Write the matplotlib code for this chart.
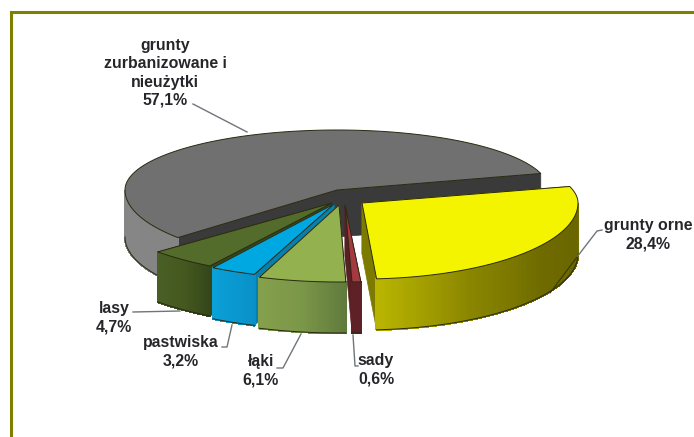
import numpy as np
import matplotlib
matplotlib.use("Agg")
import matplotlib.pyplot as plt
from matplotlib.colors import to_rgb

categories = ["grunty orne", "sady", "łąki", "pastwiska", "lasy", "grunty zurbanizowane i nieużytki"]
values = [28.4, 0.6, 6.1, 3.2, 4.7, 57.1]
labels = ["grunty orne\n28,4%", "sady\n0,6%", "łąki\n6,1%", "pastwiska\n3,2%", "lasy\n4,7%",
          "grunty\nzurbanizowane i\nnieużytki\n57,1%"]

START = 16.0
# per slice: apex x, apex y, Rx, Ry front, Ry back, depth, top, cut face, wall colour stops (from start to end angle)
geometry = [
    (362, 203, 216, 76, 60, 51, "#f4f400", "#7d7a00", ["#8f8c00", "#6a6600", "#6f6b00", "#8a8600", "#b9b500"]),
    (345, 205, 236, 77, 60, 51, "#a23a40", "#5a1f24", ["#5e2226", "#5e2226"]),
    (339, 205, 230, 77, 60, 51, "#93b14f", "#5f7a3c", ["#5f7a3c", "#7a9648", "#84a04c"]),
    (334, 204, 230, 75, 60, 51, "#00a8e2", "#0580b0", ["#0a90c8", "#0aa0d8"]),
    (332, 203, 232, 74, 60, 50, "#536b2b", "#34461a", ["#34461a", "#45591f", "#4a5f25"]),
    (337, 190, 212, 72, 60, 47, "#707070", "#3a3a3a", ["#858585", "#8a8a8a"]),
]
EDGE = "#2a2a10"

fig = plt.figure(figsize=(6.94, 4.37), dpi=100, facecolor="white")
ax = fig.add_axes([0, 0, 1, 1])
ax.set_xlim(0, 694)
ax.set_ylim(437, 0)
ax.axis("off")

ax.plot([11, 11, 694], [437, 12, 12], color="#808000", lw=2.2, solid_joinstyle="miter", zorder=1)


def project(g, theta):
    theta = np.radians(theta)
    s = np.sin(theta)
    ry = np.where(s > 0, g[4], g[3])
    return g[0] + g[2] * np.cos(theta), g[1] - ry * s


fractions = np.array(values) / np.sum(values)
edges = START - np.concatenate([[0], np.cumsum(fractions)]) * 360

order = [5, 4, 3, 2, 1, 0]
z = 2
for i in order:
    g = geometry[i]
    a0, a1 = edges[i], edges[i + 1]
    d = g[5]
    cx, cy = g[0], g[1]
    fine = np.linspace(a0, a1, 160)
    fx, fy = project(g, fine)
    # cut faces
    for k in (0, -1):
        ax.fill([cx, fx[k], fx[k], cx], [cy, fy[k], fy[k] + d, cy + d],
                color=g[7], lw=0.5, zorder=z)
    z += 1
    # rim wall with gradient
    stops = np.array([to_rgb(c) for c in g[8]])
    pos = np.linspace(0, 1, len(stops))
    for j in range(len(fine) - 1):
        if np.sin(np.radians((fine[j] + fine[j + 1]) / 2)) >= 0:
            continue
        t = (j + .5) / (len(fine) - 1)
        col = [np.interp(t, pos, stops[:, c]) for c in range(3)]
        ax.fill([fx[j], fx[j + 1], fx[j + 1], fx[j]],
                [fy[j], fy[j + 1], fy[j + 1] + d, fy[j] + d],
                facecolor=col, edgecolor=col, lw=1.0, antialiased=False, zorder=z)
    z += 1
    vis = np.sin(np.radians(fine)) < 0
    if vis.any():
        ax.plot(fx[vis], fy[vis] + d, color=EDGE, lw=0.7, zorder=z)
    # top face
    ax.fill(np.r_[cx, fx], np.r_[cy, fy], facecolor=g[6], edgecolor=EDGE, lw=0.7, zorder=z)
    z += 1

# leader lines
line = "#70757a"
leaders = [
    ([602, 597, 577], [230, 231, 257]),
    ([353, 355, 358], [335, 366, 366]),
    ([301, 283, 277], [334, 368, 368]),
    ([232, 227, 222], [325, 347, 347]),
    ([133, 180], [312, 311]),
    ([193, 247], [104, 132]),
]
for lx, ly in leaders:
    ax.plot(lx, ly, color=line, lw=1.0, zorder=z)
ax.plot([577, 550], [257, 293], color="#3a3800", lw=0.8, zorder=z)

# labels
anchors = [(648, 235), (376, 370), (261, 371), (181, 352), (114, 317.5), (165, 73)]
for (px, py), s in zip(anchors, labels):
    ax.text(px, py, s, ha="center", va="center", fontsize=11.4, fontweight="bold",
            family="Liberation Sans", color="#26262a", linespacing=1.27, zorder=z + 1)

fig.savefig("out.png", dpi=100)
